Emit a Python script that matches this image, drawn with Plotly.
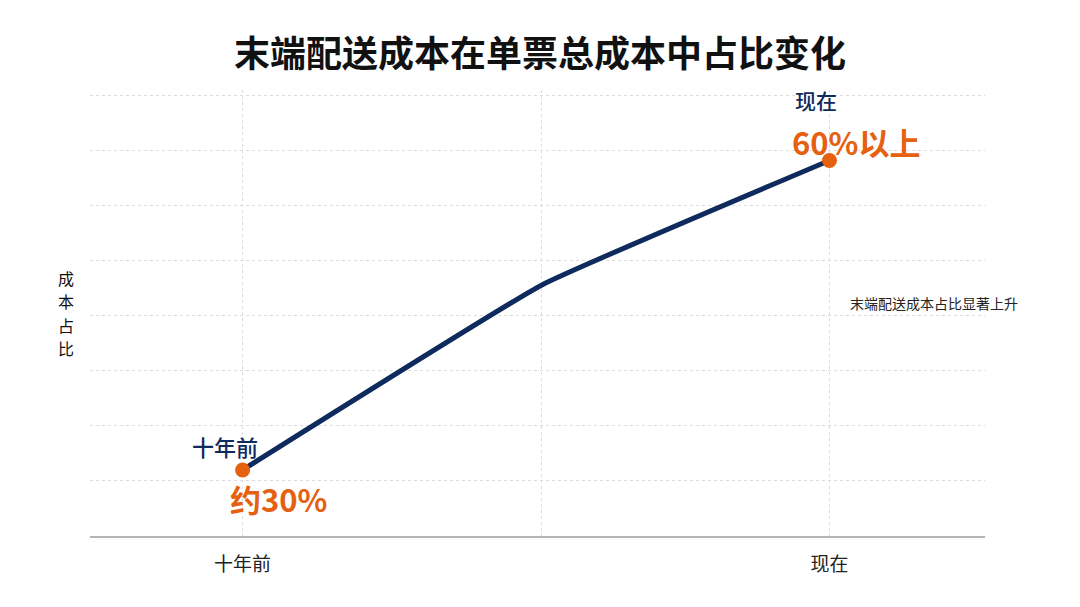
import plotly.graph_objects as go

# data
x_pos = [0, 5.1, 10]
x_labels = ["十年前", "", "现在"]
share = [31, 47.8, 59.1]          # 成本占比 (%)
point_names = ["十年前", "现在"]
point_texts = ["约30%", "60%以上"]
note = "末端配送成本占比显著上升"
y_title = "成本占比"

navy = "#0f2a5c"
orange = "#e5600f"
cjk = "Noto Sans CJK SC"

fig = go.Figure()

# main line
fig.add_trace(go.Scatter(
    x=x_pos, y=share,
    mode="lines",
    line=dict(color=navy, width=5, shape="spline", smoothing=0.3),
    showlegend=False, hoverinfo="skip",
))

# endpoint markers
fig.add_trace(go.Scatter(
    x=[x_pos[0], x_pos[-1]], y=[share[0], share[-1]],
    mode="markers",
    marker=dict(color=orange, size=15),
    showlegend=False,
))

annotations = [
    # first point
    dict(x=x_pos[0], y=share[0], text=point_names[0], showarrow=False,
         xanchor="center", yanchor="bottom", xshift=-18, yshift=6,
         font=dict(family=cjk, size=22, color=navy, weight=500)),
    dict(x=x_pos[0], y=share[0], text=point_texts[0], showarrow=False,
         xanchor="left", yanchor="top", xshift=-15, yshift=-4,
         font=dict(family=cjk, size=31, color=orange, weight=600)),
    # last point
    dict(x=x_pos[-1], y=share[-1], text=point_names[1], showarrow=False,
         xanchor="left", yanchor="bottom", xshift=-36, yshift=43,
         font=dict(family=cjk, size=21, color=navy, weight=500)),
    dict(x=x_pos[-1], y=share[-1], text=point_texts[1], showarrow=False,
         xanchor="left", yanchor="bottom", xshift=-39, yshift=-6,
         font=dict(family=cjk, size=31, color=orange, weight=600)),
    # side note
    dict(x=0.847, y=0.522, xref="paper", yref="paper", text=note, showarrow=False,
         xanchor="left", yanchor="middle",
         font=dict(family=cjk, size=14, color="#222222")),
]

# y axis title, upright stacked characters
for i, ch in enumerate(y_title):
    annotations.append(dict(
        x=-0.027, y=0.5, xref="paper", yref="paper", text=ch,
        showarrow=False, xanchor="center", yanchor="middle",
        yshift=(1.5 - i) * 23.5,
        font=dict(family=cjk, size=16, color="#111111"),
    ))

fig.update_layout(
    width=1080, height=607,
    paper_bgcolor="white", plot_bgcolor="white",
    margin=dict(l=82, r=103, t=82, b=79),
    title=dict(text="<b>末端配送成本在单票总成本中占比变化</b>",
               x=0.4926, xanchor="center", y=0.923, yanchor="middle",
               font=dict(family=cjk, size=36, color="#111111")),
    annotations=annotations,
    font=dict(family=cjk),
)

fig.update_xaxes(
    range=[-2.6, 12.65],
    tickvals=x_pos, ticktext=x_labels,
    tickfont=dict(family=cjk, size=19, color="#222222"),
    showgrid=True, gridcolor="#dcdcdc", griddash="dot", gridwidth=1,
    showline=True, linecolor="#b5b5b5", linewidth=1.5,
    zeroline=False, ticks="", ticklabelstandoff=10,
)
fig.update_yaxes(
    range=[25, 65.5], dtick=5, tick0=0,
    showticklabels=False,
    showgrid=True, gridcolor="#dcdcdc", griddash="dot", gridwidth=1,
    showline=False, zeroline=False,
)

fig.write_html("out.html")
